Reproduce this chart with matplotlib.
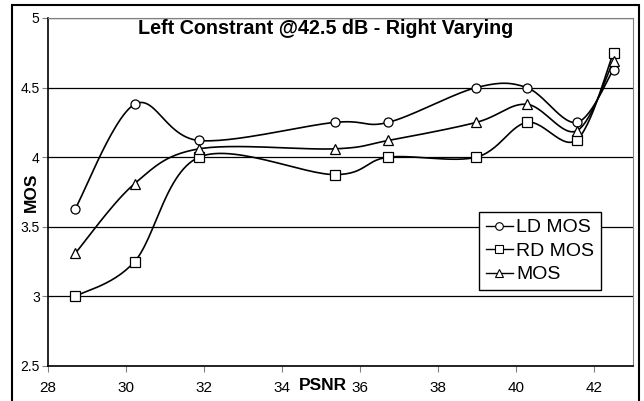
import numpy as np
import matplotlib.pyplot as plt
from matplotlib.patches import Rectangle

plt.rcParams['font.family'] = ['Liberation Sans', 'DejaVu Sans']

# Data
psnr = [28.7, 30.22, 31.87, 35.35, 36.72, 38.98, 40.28, 41.56, 42.5]
ld_mos = [3.63, 4.38, 4.12, 4.25, 4.25, 4.5, 4.5, 4.25, 4.63]
rd_mos = [3.0, 3.25, 4.0, 3.875, 4.0, 4.0, 4.25, 4.125, 4.75]
mos = [3.31, 3.81, 4.06, 4.06, 4.12, 4.25, 4.38, 4.19, 4.69]

series = [("LD MOS", ld_mos, 'o'), ("RD MOS", rd_mos, 's'), ("MOS", mos, '^')]


def smooth(x, y, n=30):
    # Excel style smoothed line (Bezier through points, Catmull-Rom tangents)
    p = np.column_stack([x, y]).astype(float)
    p = np.vstack([p[0], p, p[-1]])
    out = []
    t = np.linspace(0, 1, n)[:, None]
    for i in range(1, len(p) - 2):
        p0, p3 = p[i], p[i + 1]
        b1 = p0 + (p[i + 1] - p[i - 1]) / 6
        b2 = p3 - (p[i + 2] - p[i]) / 6
        seg = ((1 - t) ** 3) * p0 + 3 * ((1 - t) ** 2) * t * b1 + 3 * (1 - t) * t ** 2 * b2 + t ** 3 * p3
        out.append(seg)
    out = np.vstack(out)
    return out[:, 0], out[:, 1]


fig = plt.figure(figsize=(6.44, 4.01), dpi=100)
ax = fig.add_axes([48 / 644, 1 - 366 / 401, (633 - 48) / 644, (366 - 18) / 401])

# outer frame of the chart
fig.patches.append(Rectangle((12 / 644, -0.05), (639 - 12) / 644, 1.05 - 5 / 401,
                             transform=fig.transFigure, fill=False, edgecolor='black', linewidth=1.5))

for label, vals, mk in series:
    sx, sy = smooth(psnr, vals)
    ax.plot(sx, sy, color='black', linewidth=1.2, zorder=3)
    ax.plot(psnr, vals, linestyle='none', marker=mk, markersize=6.5, markerfacecolor='white',
            markeredgecolor='black', markeredgewidth=0.9, zorder=4)
    ax.plot([], [], color='black', linewidth=1.0, marker=mk, markersize=5.5, markerfacecolor='white',
            markeredgecolor='black', markeredgewidth=0.8, label=label)

ax.set_xlim(28, 43)
ax.set_ylim(2.5, 5)
ax.set_xticks([28, 30, 32, 34, 36, 38, 40, 42])
ax.set_yticks([2.5, 3, 3.5, 4, 4.5, 5])
ax.set_yticklabels(['2.5', '3', '3.5', '4', '4.5', '5'])
ax.yaxis.grid(True, color='black', linewidth=0.9)
ax.set_axisbelow(True)

ax.spines['top'].set_color('#808080')
ax.spines['right'].set_color('#808080')
ax.spines['left'].set_linewidth(1.2)
ax.spines['bottom'].set_linewidth(1.2)
ax.tick_params(axis='x', direction='out', length=4, color='#808080', labelsize=11, pad=7)
ax.tick_params(axis='y', direction='out', length=4, color='#808080', labelsize=10, pad=2)

fig.text(326 / 644, 1 - 29 / 401, 'Left Constrant @42.5 dB - Right Varying', ha='center', va='center',
         fontsize=14.2, fontweight='bold')
fig.text(323 / 644, 1 - 385 / 401, 'PSNR', ha='center', va='center', fontsize=12.5, fontweight='bold')
fig.text(31 / 644, 1 - 192 / 401, 'MOS', ha='center', va='center', rotation=90, fontsize=12.5,
         fontweight='bold')

leg = ax.legend(loc='upper left', bbox_to_anchor=(479 / 644, 1 - 212 / 401), bbox_transform=fig.transFigure,
                borderaxespad=0, fancybox=False, edgecolor='black', framealpha=1, fontsize=14,
                handlelength=1.4, handletextpad=0.15, labelspacing=0.3, borderpad=0.35)
leg.get_frame().set_linewidth(1.0)

fig.savefig('out.png', dpi=100)
